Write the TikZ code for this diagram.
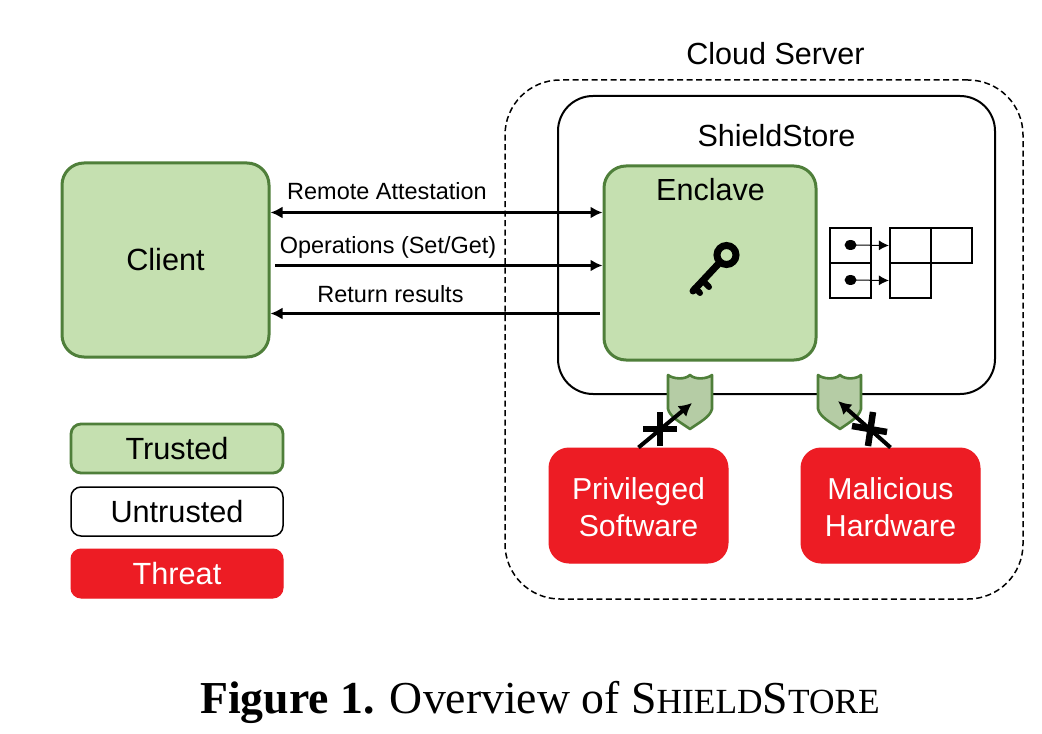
\documentclass[tikz,border=0pt]{standalone}
\usepackage{fontspec}
\setmainfont{Liberation Sans}
\newfontfamily\capfont{Liberation Serif}
\usetikzlibrary{arrows.meta,positioning,shapes.geometric}
\def\px{0.75pt}
\definecolor{trustfill}{HTML}{C5E0B0}
\definecolor{trustline}{HTML}{4F7F3A}
\definecolor{threatred}{HTML}{ED1C24}
\definecolor{shieldfill}{HTML}{B5CCA5}
\tikzset{
 lbl/.style={inner sep=0pt,font=\fontsize{#1}{#1}\selectfont,align=center},
 lbl/.default=22,
 boxbase/.style={draw,inner sep=0pt,line width=3*\px},
 trusted/.style={boxbase,draw=trustline,fill=trustfill,rounded corners=22*\px},
 threat/.style={boxbase,draw=threatred,fill=threatred,rounded corners=20*\px,line width=1*\px,minimum width=179*\px,minimum height=115*\px},
 threatlbl/.style={inner sep=0pt,align=center,text=white,font=\fontsize{22.7}{27.5}\selectfont},
 legend/.style={boxbase,minimum width=212*\px,minimum height=49*\px,rounded corners=10*\px,font=\fontsize{23}{23}\selectfont},
 flow/.style={line width=3.2*\px,-{Latex[length=12*\px,width=12*\px]}},
 flowboth/.style={line width=3.2*\px,{Latex[length=12*\px,width=12*\px]}-{Latex[length=12*\px,width=12*\px]}},
 attack/.style={line width=4*\px,-{Latex[length=13*\px,width=14*\px]}},
 crossbar/.style={line width=6.5*\px},
 cell/.style={draw,line width=2.2*\px,fill=white,minimum width=41*\px,minimum height=35*\px,inner sep=0pt},
 shield/.style={draw=trustline,fill=shieldfill,line width=2.6*\px,line join=round},
 dot/.style={fill=black,ellipse,minimum width=12*\px,minimum height=10*\px,inner sep=0pt},
 ptr/.style={line width=1*\px,-{Latex[length=10*\px,width=10*\px]}},
}
\begin{document}
\begin{tikzpicture}[x=\px,y=-\px]
\useasboundingbox (0,0) rectangle (1042,734);
\fill[white] (0,0) rectangle (1042,734);
% containers
\node[draw,dash pattern=on 6*\px off 3.5*\px,line width=1.5*\px,rounded corners=55*\px,minimum width=518*\px,minimum height=519*\px,inner sep=0pt] (cloud) at (764,339.5) {};
\node[draw,line width=2*\px,rounded corners=35*\px,minimum width=437*\px,minimum height=298*\px,inner sep=0pt] (store) at (776.5,245) {};
\node[lbl=22.9] (cloudlbl) at (775.5,54) {Cloud Server};
\node[lbl=22.9] (storelbl) at (776.5,135.5) {ShieldStore};
% main boxes
\node[trusted,minimum width=207*\px,minimum height=194*\px,font=\fontsize{23}{23}\selectfont] (client) at (165.5,260) {Client};
\node[trusted,minimum width=212*\px,minimum height=194*\px] (enclave) at (710,263) {};
\node[lbl=22.9] (enclavelbl) at (710.5,190) {Enclave};
% key
\draw[line width=7*\px,line cap=round] (722,260) -- (693,291);
\draw[line width=6*\px,line cap=round] (703,281) -- (709,287);
\draw[line width=6*\px,line cap=round] (695,288) -- (700,293);
\draw[line width=7*\px,fill=trustfill] (726.5,255) circle[radius=9.5];
% hash table
\node[cell] (c11) at (850.5,245.5) {};
\node[cell] (c21) at (850.5,280.5) {};
\node[cell] (b11) at (910.5,245.5) {};
\node[cell] (b12) at (951.5,245.5) {};
\node[cell] (b21) at (910.5,280.5) {};
\node[dot] (d1) at (850.5,245) {};
\node[dot] (d2) at (850.5,280) {};
\draw[ptr] (d1.center) -- (b11.west);
\draw[ptr] (d2.center) -- (b21.west);
% flows
\coordinate (c1) at (client.east |- 0,212.5);
\coordinate (e1) at (enclave.west |- 0,212.5);
\coordinate (c2) at (275,265.5);
\coordinate (e2) at (enclave.west |- 0,265.5);
\coordinate (c3) at (client.east |- 0,313.5);
\coordinate (e3) at (600,313.5);
\draw[flowboth] (c1) -- (e1);
\draw[flow] (c2) -- (e2);
\draw[flow] (e3) -- (c3);
\node[lbl=17.6] (l1) at (387,191) {Remote Attestation};
\node[lbl=17.6] (l2) at (388,247) {Operations (Set/Get)};
\node[lbl=17.6] (l3) at (390.5,294) {Return results};
% threats
\node[threat] (priv) at (638.5,505.5) {};
\node[threat] (mal) at (890.5,505.5) {};
\node[threatlbl] (privlbl) at (638.5,507.5) {Privileged\\Software};
\node[threatlbl] (mallbl) at (890.5,507.5) {Malicious\\Hardware};
% shields
\draw[shield] (668,375) .. controls (673,379) and (685,380) .. (690,375) .. controls (695,380) and (707,379) .. (712,375)
 -- (712,409) .. controls (710,417) and (700,422) .. (690,429) .. controls (680,422) and (670,417) .. (668,409) -- cycle;
\draw[shield] (818,375) .. controls (823,379) and (835,380) .. (840,375) .. controls (845,380) and (857,379) .. (861,375)
 -- (861,409) .. controls (859,417) and (850,422) .. (840,429) .. controls (830,422) and (820,417) .. (818,409) -- cycle;
\coordinate (t1) at (692,403);
\coordinate (t2) at (838,401);
\draw[attack] (priv.north) -- (t1);
\draw[attack] (mal.north) -- (t2);
\draw[crossbar] (660,412) -- (660,446);
\draw[crossbar] (643,429) -- (677,429);
\draw[crossbar] (873,412) -- (868,446);
\draw[crossbar] (852,426) -- (887,432);
% legend
\node[legend,trusted,rounded corners=10*\px,minimum width=212*\px,minimum height=49*\px,line width=2.8*\px] (lt) at (177,448.5) {Trusted};
\node[legend,draw=black,line width=1.5*\px] (lu) at (177,511.5) {Untrusted};
\node[legend,draw=threatred,fill=threatred,text=white,line width=1*\px] (lr) at (177,573.5) {Threat};
% caption
\node[inner sep=0pt,font=\capfont\fontsize{34.3}{34.3}\selectfont] (cap) at (540,702) {\textbf{Figure 1.} Overview of S{\fontsize{26.5}{26.5}\selectfont HIELD}S{\fontsize{26.5}{26.5}\selectfont TORE}};
\end{tikzpicture}
\end{document}
